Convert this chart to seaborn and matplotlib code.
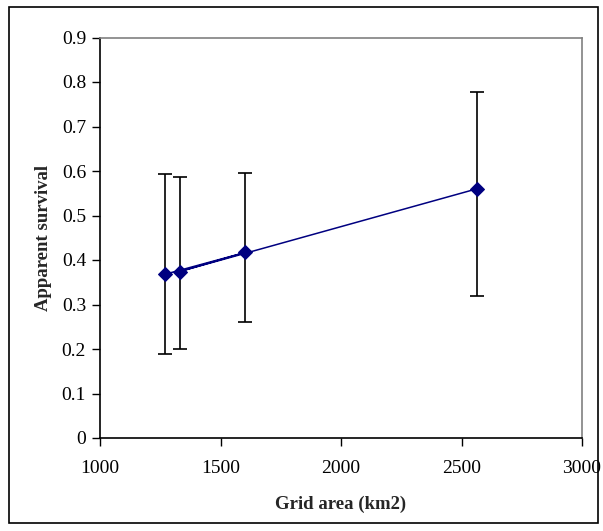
import matplotlib
matplotlib.use("Agg")
import matplotlib.pyplot as plt
import seaborn as sns
import pandas as pd
from matplotlib.patches import Rectangle

# Data (order as plotted in the original series)
grid_area = [1270, 1603, 1330, 2564]
survival = [0.368, 0.417, 0.374, 0.560]
upper = [0.593, 0.596, 0.587, 0.777]
lower = [0.189, 0.261, 0.201, 0.320]

x_ticks = [1000, 1500, 2000, 2500, 3000]
y_ticks = [0, 0.1, 0.2, 0.3, 0.4, 0.5, 0.6, 0.7, 0.8, 0.9]
y_tick_labels = ["0", "0.1", "0.2", "0.3", "0.4", "0.5", "0.6", "0.7", "0.8", "0.9"]

df = pd.DataFrame({"area": grid_area, "surv": survival, "up": upper, "lo": lower})

sns.set_style("white")
plt.rcParams["font.family"] = ["Liberation Serif", "DejaVu Serif"]

fig = plt.figure(figsize=(6.03, 5.31), dpi=100)
ax = fig.add_axes([100 / 603, (531 - 438) / 531, (582 - 100) / 603, (438 - 37.5) / 531])

# outer chart border
fig.patches.append(Rectangle((9 / 603, 8 / 531), (598 - 9) / 603, (524 - 8) / 531,
                             transform=fig.transFigure, fill=False,
                             edgecolor="black", linewidth=1.2))

yerr = [df["surv"] - df["lo"], df["up"] - df["surv"]]
ax.errorbar(df["area"], df["surv"], yerr=yerr, fmt="none", ecolor="black",
            elinewidth=1.2, capsize=5, capthick=1.2, zorder=2)

sns.lineplot(data=df, x="area", y="surv", sort=False, estimator=None,
             color="#000080", linewidth=1.1, marker="D", markersize=7.5,
             markeredgecolor="#000080", ax=ax, zorder=3)

ax.set_xlim(1000, 3000)
ax.set_ylim(0, 0.9)
ax.set_xticks(x_ticks)
ax.set_xticklabels([str(t) for t in x_ticks])
ax.set_yticks(y_ticks)
ax.set_yticklabels(y_tick_labels)

ax.tick_params(axis="both", which="major", labelsize=14, length=6, width=1,
               direction="out", colors="black", bottom=True, left=True)
ax.tick_params(axis="x", pad=10)
ax.tick_params(axis="y", pad=4)

for s in ["left", "bottom"]:
    ax.spines[s].set_color("black")
    ax.spines[s].set_linewidth(1.2)
for s in ["top", "right"]:
    ax.spines[s].set_color("#808080")
    ax.spines[s].set_linewidth(1.2)

ax.set_xlabel("Grid area (km2)", fontsize=13.5, fontweight="bold", labelpad=13)
ax.set_ylabel("Apparent survival", fontsize=13.5, fontweight="bold", labelpad=7)
ax.grid(False)

fig.savefig("out.png", dpi=100)
